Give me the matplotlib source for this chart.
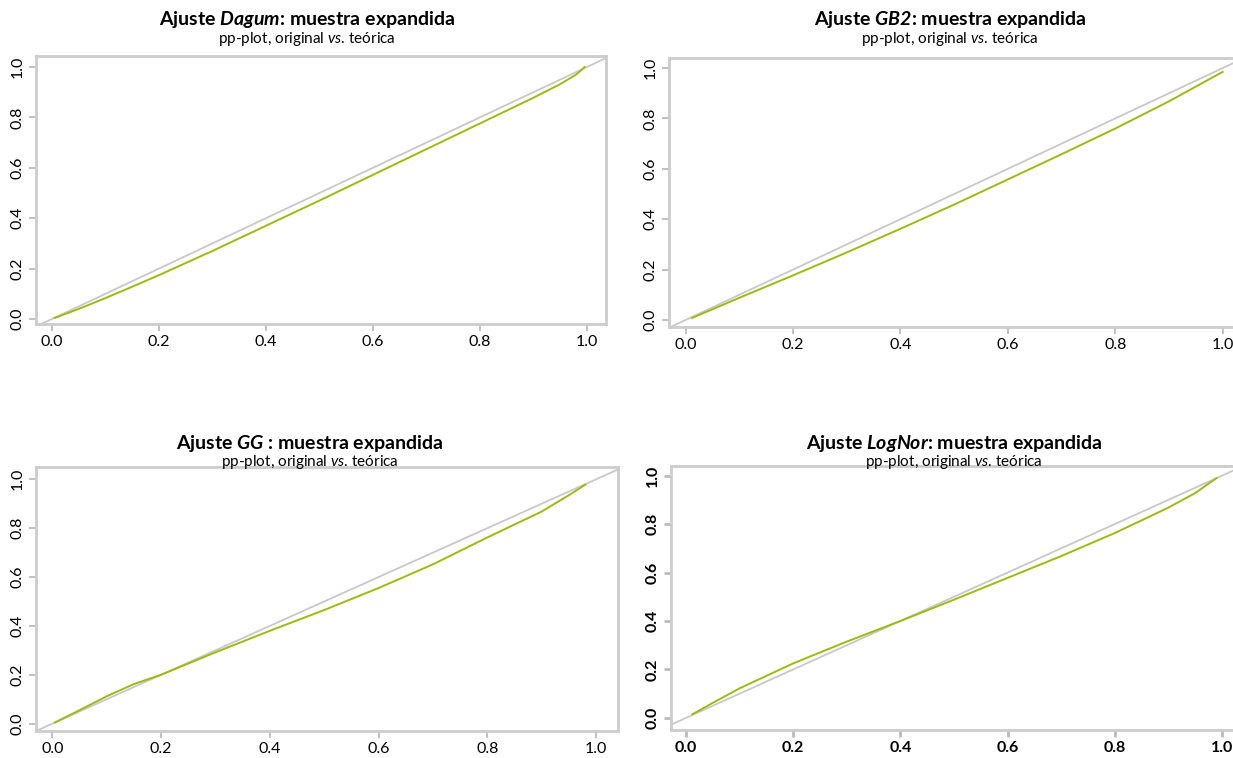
import numpy as np
import matplotlib.pyplot as plt

plt.rcParams['font.family'] = ['Lato', 'DejaVu Sans']
plt.rcParams['mathtext.fontset'] = 'custom'
plt.rcParams['mathtext.rm'] = 'Lato'
plt.rcParams['mathtext.it'] = 'Lato:italic'
plt.rcParams['mathtext.bf'] = 'Lato:bold'
plt.rcParams['mathtext.bfit'] = 'Lato:bold:italic'

# ------------------------------------------------------------------
# pp-plot data (theoretical vs original cumulative probabilities)
# ------------------------------------------------------------------
dagum_x = [0.005, 0.05, 0.10, 0.15, 0.20, 0.30, 0.40, 0.50, 0.60, 0.70, 0.80, 0.90, 0.95, 0.98, 0.996]
dagum_y = [0.004, 0.040, 0.083, 0.128, 0.174, 0.270, 0.370, 0.470, 0.572, 0.674, 0.776, 0.878, 0.932, 0.970, 1.000]

gb2_x = [0.012, 0.10, 0.20, 0.30, 0.40, 0.50, 0.60, 0.70, 0.80, 0.90, 1.00]
gb2_y = [0.008, 0.088, 0.177, 0.268, 0.362, 0.458, 0.558, 0.658, 0.760, 0.868, 0.985]

gg_x = [0.005, 0.05, 0.10, 0.15, 0.20, 0.30, 0.40, 0.50, 0.60, 0.70, 0.80, 0.90, 0.92, 0.95, 0.98]
gg_y = [0.005, 0.055, 0.112, 0.162, 0.200, 0.292, 0.380, 0.465, 0.555, 0.652, 0.762, 0.868, 0.895, 0.935, 0.978]

lognor_x = [0.012, 0.05, 0.10, 0.20, 0.30, 0.40, 0.50, 0.60, 0.70, 0.80, 0.90, 0.95, 0.99]
lognor_y = [0.015, 0.062, 0.122, 0.225, 0.315, 0.400, 0.488, 0.578, 0.668, 0.763, 0.868, 0.928, 0.990]

titles = [r'Ajuste $\mathbfit{Dagum}$: muestra expandida',
          r'Ajuste $\mathbfit{GB2}$: muestra expandida',
          r'Ajuste $\mathbfit{GG}$ : muestra expandida',
          r'Ajuste $\mathbfit{LogNor}$: muestra expandida']
subtitle = r'pp-plot, original $\mathit{vs}$. teórica'

W, H = 1233, 758
fig = plt.figure(figsize=(W / 100, H / 100), dpi=100)

GREEN = '#9cbb12'
GREY_LINE = '#c8c8c8'
BORDER = '#cccccc'


def px_axes(left, top, right, bottom):
    return fig.add_axes([left / W, 1 - bottom / H, (right - left) / W, (bottom - top) / H])


panels = [
    # (left, top, right, bottom), xlim, ylim, title centre, title y, data
    ((36, 56, 606, 324), (-0.030, 1.036), (-0.020, 1.044), 307, 20, dagum_x, dagum_y, False),
    ((669, 58, 1242, 327), (-0.031, 1.036), (-0.028, 1.040), 950, 20, gb2_x, gb2_y, False),
    ((36, 467, 618, 731), (-0.030, 1.040), (-0.030, 1.050), 310, 443, gg_x, gg_y, False),
    ((671, 466, 1246, 730), (-0.028, 1.045), (-0.050, 1.040), 954, 443, lognor_x, lognor_y, True),
]

for i, (box, xl, yl, tx, ty, xs, ys, bold) in enumerate(panels):
    ax = px_axes(*box)
    ax.axline((0, 0), (1, 1), color=GREY_LINE, lw=1.3, zorder=1)
    ax.plot(xs, ys, color=GREEN, lw=1.4, zorder=2)
    ax.set_xlim(*xl)
    ax.set_ylim(*yl)
    ticks = [0.0, 0.2, 0.4, 0.6, 0.8, 1.0]
    ax.set_xticks(ticks)
    ax.set_yticks(ticks)
    ax.set_xticklabels([f'{t:.1f}' for t in ticks])
    ax.set_yticklabels([f'{t:.1f}' for t in ticks], rotation=90, va='center')
    for s in ax.spines.values():
        s.set_color(BORDER)
        s.set_linewidth(2)
    ax.tick_params(colors='#bbbbbb', labelcolor='black', length=5,
                   width=2 if bold else 1.3, labelsize=11.5, pad=3)
    if bold:
        for lab in ax.get_xticklabels() + ax.get_yticklabels():
            lab.set_fontweight('bold')
    fig.text(tx / W, 1 - ty / H, titles[i], ha='center', va='center',
             fontsize=14, fontweight='bold')
    fig.text(tx / W, 1 - (ty + 19) / H, subtitle, ha='center', va='center',
             fontsize=11)

fig.savefig('out.png', dpi=100)
